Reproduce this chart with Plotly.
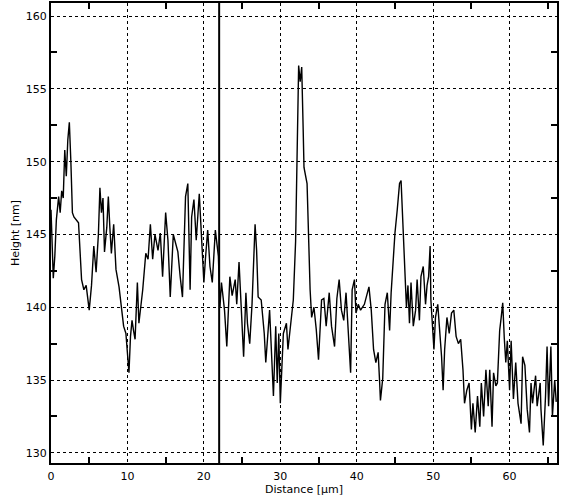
import plotly.graph_objects as go

distance_um = [
    0.0, 0.15, 0.3, 0.5, 0.7, 1.0, 1.2, 1.4, 1.6, 1.8, 2.0, 2.2, 2.4, 2.6, 2.8, 3.0, 3.3, 3.6,
    4.0, 4.3, 4.6, 5.0, 5.3, 5.6, 5.9, 6.2, 6.4, 6.6, 6.8, 7.0, 7.3, 7.5, 7.7, 7.9, 8.2, 8.5,
    8.9, 9.2, 9.5, 9.8, 10.0, 10.2, 10.4, 10.6, 10.8, 11.0, 11.3, 11.5, 12.0, 12.4, 12.7, 13.0,
    13.3, 13.6, 14.0, 14.3, 14.6, 15.0, 15.3, 15.6, 16.0, 16.3, 16.6, 16.9, 17.2, 17.6, 17.9,
    18.2, 18.4, 18.7, 19.0, 19.4, 19.7, 20.0, 20.2, 20.5, 20.8, 21.1, 21.5, 21.9, 22.1, 22.3,
    22.7, 23.0, 23.4, 23.7, 24.1, 24.3, 24.6, 25.0, 25.2, 25.5, 25.7, 26.0, 26.3, 26.7, 26.9,
    27.1, 27.5, 27.9, 28.1, 28.6, 28.8, 29.1, 29.4, 29.6, 29.8, 30.0, 30.4, 30.8, 31.0, 31.4,
    31.7, 32.0, 32.2, 32.4, 32.6, 32.8, 33.0, 33.1, 33.5, 33.7, 33.9, 34.1, 34.4, 34.7, 35.0,
    35.4, 35.7, 36.0, 36.4, 36.7, 37.1, 37.4, 37.7, 38.0, 38.3, 38.6, 38.9, 39.2, 39.4, 39.7,
    39.9, 40.2, 40.5, 41.0, 41.4, 41.6, 41.9, 42.2, 42.5, 42.8, 43.0, 43.1, 43.4, 43.7, 44.0,
    44.3, 44.5, 44.8, 45.0, 45.3, 45.6, 45.8, 46.0, 46.3, 46.5, 46.7, 46.9, 47.1, 47.4, 47.7,
    47.9, 48.2, 48.4, 48.7, 49.0, 49.2, 49.4, 49.6, 49.7, 50.1, 50.3, 50.6, 50.9, 51.1, 51.3,
    51.5, 51.8, 52.1, 52.4, 52.7, 53.0, 53.3, 53.6, 53.9, 54.1, 54.4, 54.7, 55.0, 55.2, 55.5,
    55.8, 56.1, 56.3, 56.6, 56.9, 57.2, 57.4, 57.7, 57.9, 58.2, 58.4, 58.7, 58.9, 59.1, 59.3,
    59.5, 59.7, 60.0, 60.2, 60.5, 60.8, 61.1, 61.5, 61.7, 62.0, 62.3, 62.6, 62.8, 63.0, 63.4,
    63.6, 64.0, 64.1, 64.4, 64.7, 64.9, 65.1, 65.4, 65.6, 65.9, 66.1,
]

height_nm = [
    146.7, 144.5, 142.0, 143.5, 146.0, 147.6, 146.5, 148.0, 147.5, 150.8, 149.0, 151.5, 152.7, 150.0, 146.5, 146.2, 146.0, 145.8,
    141.9, 141.2, 141.5, 139.8, 141.5, 144.2, 142.4, 145.0, 148.2, 146.5, 147.5, 143.8, 145.5, 147.6, 145.5, 143.7, 145.7, 142.6,
    141.4, 140.0, 138.7, 138.2, 136.5, 135.5, 138.0, 139.1, 138.4, 137.8, 141.7, 138.9, 141.2, 143.7, 143.3, 145.7,
    143.3, 145.0, 143.9, 145.1, 142.1, 146.5, 144.6, 140.7, 145.0, 144.3, 143.8, 142.1, 140.7, 147.6, 148.5,
    141.2, 146.2, 147.4, 144.6, 147.8, 145.1, 141.7, 143.3, 145.3, 142.8, 141.7, 145.3, 143.5, 140.0, 141.7,
    139.8, 137.3, 142.1, 140.8, 141.9, 140.2, 143.1, 139.3, 136.6, 141.0, 138.9, 137.5, 140.2, 145.7, 143.9,
    140.7, 140.5, 138.2, 136.2, 139.8, 137.3, 133.9, 138.7, 134.8, 138.2, 133.4, 138.2, 138.9, 137.1, 139.3,
    140.5, 144.5, 151.0, 156.6, 155.5, 156.5, 152.0, 149.6, 148.5, 143.9, 141.2, 139.3, 140.0, 138.5, 136.4,
    140.5, 140.6, 138.7, 141.0, 138.7, 137.3, 140.6, 141.9, 139.8, 139.1, 141.0, 138.5, 135.5, 141.2, 141.9,
    139.6, 140.2, 139.8, 140.2, 141.0, 141.4, 139.8, 137.1, 136.2, 136.9, 134.8, 133.6, 135.1, 140.2, 141.0,
    138.4, 141.0, 143.9, 145.1, 146.7, 148.5, 148.7, 146.2, 141.7, 140.0, 141.5, 138.9, 141.7, 138.7, 139.8,
    141.9, 139.1, 142.1, 142.8, 140.2, 141.5, 142.1, 144.2, 140.5, 137.1, 139.3, 140.2, 138.0, 136.6, 134.3,
    137.1, 139.3, 138.2, 139.6, 139.8, 138.0, 137.5, 137.8, 135.7, 133.4, 134.3, 134.8, 131.6, 133.4, 131.4,
    133.9, 131.8, 134.8, 132.5, 135.7, 133.2, 135.7, 131.8, 135.5, 134.6, 134.8, 138.4, 139.3, 140.3, 137.9,
    136.2, 137.7, 134.3, 137.7, 133.7, 136.2, 133.4, 132.0, 136.6, 136.0, 133.0, 131.4, 134.8, 133.4, 135.3,
    133.2, 134.8, 133.0, 130.5, 133.9, 137.3, 133.2, 137.3, 132.5, 135.0, 133.5,
]

cursor_um = [22.0]
x_range = [0, 66.2]
y_range = [129.3, 160.9]

fig = go.Figure()
fig.add_trace(go.Scatter(x=distance_um, y=height_nm, mode="lines",
                         line=dict(color="black", width=1.4), showlegend=False))

for c in cursor_um:
    fig.add_shape(type="line", xref="x", yref="paper", x0=c, x1=c, y0=0, y1=1,
                  line=dict(color="black", width=2))

font = dict(family="DejaVu Sans", size=11, color="black")

fig.update_layout(
    width=561, height=499,
    margin=dict(l=51, r=4, t=3, b=36, autoexpand=False),
    paper_bgcolor="white", plot_bgcolor="white",
    font=font,
    xaxis=dict(range=x_range, tick0=0, dtick=10, ticks="", showline=True, linecolor="black",
               linewidth=2, mirror="ticks", showgrid=True, gridcolor="black", griddash="dot",
               gridwidth=1.2, zeroline=False, automargin=False, ticklabelstandoff=2,
               minor=dict(ticks="inside", dtick=5, ticklen=6, tickcolor="black", tickwidth=2, showgrid=False),
               title=dict(text="Distance [µm]", standoff=0, font=font)),
    yaxis=dict(range=y_range, tick0=130, dtick=5, ticks="", showline=True, linecolor="black",
               linewidth=2, mirror="ticks", showgrid=True, gridcolor="black", griddash="dot",
               gridwidth=1.2, zeroline=False, automargin=False,
               minor=dict(ticks="inside", dtick=2.5, ticklen=6, tickcolor="black", tickwidth=2, showgrid=False),
               title=dict(text="Height [nm]", standoff=4, font=font)),
)

fig.write_html("out.html", config={"displayModeBar": False},
               post_script="document.body.style.margin='0';document.body.style.overflow='hidden';")
